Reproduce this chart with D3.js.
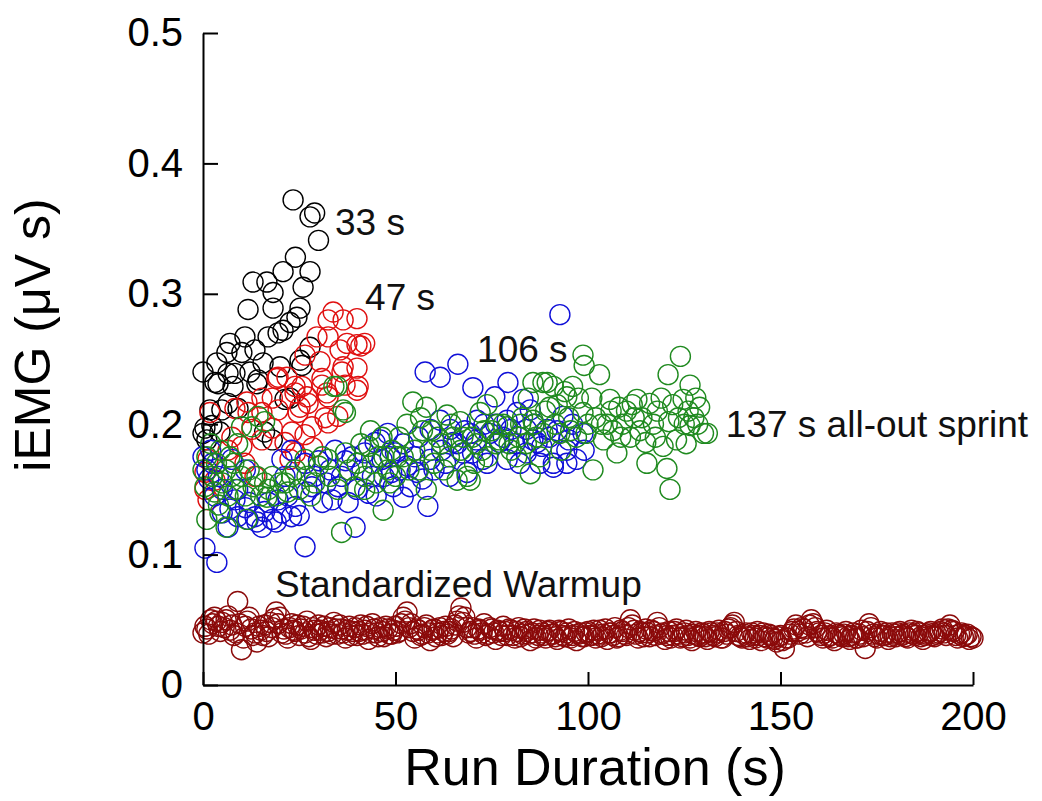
<!DOCTYPE html>
<html>
<head>
<meta charset="utf-8">
<script src="https://cdnjs.cloudflare.com/ajax/libs/d3/7.8.5/d3.min.js"></script>
<style>
  body { margin: 0; background: #fff; }
  svg { display: block; font-family: "Liberation Sans", Arial, sans-serif; }
</style>
</head>
<body>
<svg></svg>
<script>
// Data: [time (s), iEMG (uV s)]
const sprint33 = [[0,0.240],[0.5,0.197],[1,0.188],[1.8,0.211],[2.3,0.199],[3.1,0.232],[3.6,0.247],[3.9,0.231],[4.4,0.194],[4.9,0.211],[6.2,0.255],[6.5,0.216],[6.5,0.239],[7,0.262],[7.8,0.229],[8.3,0.239],[9.1,0.212],[10.1,0.255],[10.9,0.267],[11.7,0.288],[12.2,0.240],[13,0.309],[13.5,0.257],[14,0.231],[14.3,0.234],[15.6,0.247],[16,0.194],[16.6,0.309],[16.9,0.267],[18,0.188],[18.2,0.301],[18.2,0.289],[19.5,0.270],[20,0.244],[20.8,0.272],[20.8,0.317],[21.3,0.219],[22.6,0.278],[22.6,0.220],[23.4,0.372],[24,0.328],[24.4,0.282],[25.2,0.289],[25.2,0.249],[25.7,0.245],[26,0.305],[27.8,0.259],[27.8,0.317],[27.8,0.359],[29,0.362],[30,0.341],[0,0.193]];

const sprint47 = [[0.5,0.150],[0.5,0.163],[1.3,0.142],[1.3,0.173],[1.8,0.209],[3.1,0.157],[6.5,0.180],[7.5,0.190],[8.3,0.212],[10.1,0.183],[10.9,0.170],[11.4,0.217],[11.7,0.209],[12.7,0.196],[13.5,0.160],[15.3,0.220],[15.3,0.209],[15.3,0.188],[18,0.220],[18,0.197],[19.2,0.235],[19.5,0.236],[19.5,0.211],[21.3,0.186],[21.8,0.236],[22.6,0.173],[23.1,0.194],[23.9,0.229],[23.9,0.224],[24,0.178],[24.7,0.209],[25.2,0.213],[25.7,0.229],[26.5,0.253],[26.5,0.192],[27,0.221],[27.3,0.216],[28.3,0.198],[28.5,0.182],[29.6,0.267],[30.4,0.248],[30.9,0.230],[30.9,0.235],[31.7,0.205],[32.2,0.224],[32.5,0.280],[32.5,0.267],[32.5,0.221],[32.5,0.201],[33.8,0.286],[35,0.206],[35.6,0.257],[36.1,0.240],[36.4,0.280],[36.4,0.244],[36.9,0.230],[37.4,0.262],[40,0.281],[40,0.261],[40,0.243],[40,0.226],[40.3,0.229],[41,0.260],[42,0.262]];

const sprint106 = [[0,0.175],[0.5,0.105],[1,0.165],[1.5,0.158],[2,0.180],[2.5,0.170],[3,0.145],[3.6,0.094],[4,0.160],[5,0.132],[5,0.150],[6.5,0.121],[7,0.135],[7.5,0.173],[8.3,0.142],[9,0.129],[9,0.150],[11,0.165],[11,0.136],[11.7,0.127],[12,0.140],[13.5,0.129],[14,0.125],[15.3,0.121],[16,0.133],[17,0.140],[18,0.127],[19,0.125],[19.5,0.142],[20.5,0.132],[20.5,0.173],[21.3,0.160],[22,0.145],[23,0.129],[23,0.180],[24,0.137],[25,0.130],[26.5,0.170],[26.5,0.106],[27,0.148],[28.3,0.152],[29,0.160],[30,0.172],[31,0.140],[32,0.155],[33,0.165],[33.5,0.142],[34.3,0.180],[35,0.152],[36,0.160],[37,0.172],[37.7,0.140],[38.7,0.175],[39.5,0.121],[40,0.150],[41.3,0.165],[42,0.178],[43,0.147],[44,0.160],[44.7,0.186],[45,0.145],[46,0.188],[46.5,0.173],[47,0.160],[48,0.193],[48.6,0.175],[49,0.163],[49.4,0.152],[50,0.178],[51.2,0.165],[52,0.144],[52,0.185],[53,0.168],[53.8,0.152],[55,0.175],[55.6,0.163],[56,0.190],[57,0.158],[57.7,0.240],[58.4,0.137],[59,0.173],[59,0.196],[60,0.165],[61.6,0.203],[61.6,0.236],[62,0.180],[63,0.170],[64,0.160],[64.2,0.196],[65,0.186],[66,0.185],[66.2,0.246],[67.5,0.178],[68,0.195],[68.6,0.163],[69.4,0.193],[70,0.178],[70.1,0.228],[71,0.188],[71.2,0.203],[72.7,0.173],[73,0.200],[73.8,0.170],[74.5,0.193],[75.8,0.221],[76,0.200],[77,0.186],[78,0.190],[79,0.203],[79,0.173],[79.2,0.232],[80,0.196],[81,0.185],[81.6,0.209],[82.3,0.170],[83.1,0.219],[84,0.196],[84,0.178],[85,0.211],[85.7,0.188],[86,0.200],[86.8,0.186],[87.5,0.170],[88,0.183],[89.4,0.196],[90,0.190],[91,0.167],[91,0.170],[92,0.195],[92.7,0.284],[93.5,0.206],[94.5,0.180],[94.5,0.170],[95,0.188],[96,0.200],[97,0.173],[98.7,0.193],[99,0.180]];

const sprint137 = [[0,0.165],[0.5,0.152],[1,0.175],[1,0.127],[2,0.185],[2.5,0.160],[3,0.148],[3.5,0.170],[4,0.138],[4.4,0.132],[4.5,0.180],[5,0.155],[6,0.165],[6,0.121],[6.5,0.145],[7,0.175],[7.5,0.160],[8,0.170],[8.5,0.150],[9,0.185],[10,0.198],[10,0.160],[11,0.145],[11.4,0.127],[12,0.165],[12.7,0.198],[13,0.152],[14,0.160],[14.3,0.206],[15,0.145],[16,0.202],[16,0.155],[16.6,0.144],[17,0.150],[18,0.160],[19,0.145],[20,0.155],[21.3,0.155],[22,0.148],[23,0.160],[24,0.165],[25,0.150],[26.5,0.173],[27,0.160],[28,0.145],[29,0.155],[30,0.168],[31,0.175],[32.5,0.173],[33,0.160],[34,0.229],[34.8,0.229],[35,0.150],[36,0.117],[36.4,0.211],[37,0.178],[37,0.209],[38,0.165],[39.5,0.152],[40,0.170],[41,0.185],[42,0.160],[42,0.150],[43,0.183],[43.5,0.195],[44,0.170],[45,0.155],[45.5,0.175],[46.5,0.190],[46.8,0.134],[47,0.175],[48,0.165],[48.5,0.155],[49,0.180],[50,0.160],[50.5,0.175],[51,0.190],[52,0.175],[53,0.200],[53.5,0.165],[54.5,0.217],[55,0.180],[56,0.165],[56.5,0.205],[57,0.195],[58,0.213],[58,0.150],[59,0.180],[59.5,0.195],[60,0.170],[61,0.190],[62,0.185],[62.5,0.165],[63.4,0.207],[64,0.175],[64.5,0.200],[65,0.190],[66,0.157],[66.8,0.202],[67,0.180],[67.5,0.190],[68.6,0.160],[69.4,0.157],[70,0.190],[70.5,0.170],[71,0.185],[72,0.209],[72.5,0.180],[73,0.195],[73.8,0.215],[74,0.175],[75,0.195],[76,0.185],[76.5,0.200],[77,0.188],[78,0.200],[79,0.198],[79.5,0.185],[80,0.180],[81.5,0.175],[82,0.190],[82.5,0.200],[83,0.205],[84,0.185],[84.5,0.220],[85,0.162],[85.7,0.232],[85.7,0.203],[86,0.200],[86.5,0.190],[87.5,0.175],[88.3,0.232],[88.3,0.193],[89,0.210],[89.4,0.232],[90,0.213],[91,0.229],[91.5,0.200],[92,0.215],[92.7,0.193],[93,0.180],[94,0.225],[94.5,0.221],[95,0.205],[95.5,0.195],[96,0.229],[97,0.190],[97.5,0.220],[98.7,0.253],[98.7,0.209],[99,0.245],[99.5,0.193],[100,0.200],[101,0.220],[101.3,0.165],[102,0.205],[103,0.238],[103.5,0.200],[104,0.188],[105,0.200],[105.7,0.219],[106,0.210],[106.5,0.195],[107.5,0.178],[108,0.213],[108.5,0.190],[109,0.200],[110,0.210],[111,0.190],[111.5,0.215],[112,0.205],[112.7,0.219],[113.5,0.195],[114,0.205],[115,0.186],[115.3,0.170],[116,0.216],[117,0.200],[117.5,0.190],[118,0.210],[119,0.220],[119.5,0.183],[120.5,0.166],[120.8,0.238],[121,0.202],[121.3,0.150],[122,0.215],[123,0.188],[123.5,0.205],[124,0.252],[124.7,0.219],[125,0.200],[125.5,0.185],[126,0.210],[126.5,0.230],[126.5,0.199],[127.5,0.205],[128,0.220],[128.5,0.200],[129,0.213],[130,0.193],[131,0.193]];

// warmup sampled every second (0..200 s) plus the in-between half seconds
const warmupY = [
  0.040,0.043,0.050,0.052,0.045,0.048,0.050,0.042,0.038,0.064,
  0.027,0.045,0.052,0.038,0.033,0.042,0.046,0.037,0.044,0.056,
  0.052,0.043,0.036,0.047,0.041,0.038,0.045,0.049,0.035,0.042,
  0.046,0.040,0.037,0.044,0.048,0.039,0.043,0.036,0.045,0.041,
  0.038,0.046,0.042,0.035,0.047,0.040,0.044,0.037,0.043,0.039,
  0.045,0.041,0.052,0.056,0.047,0.036,0.042,0.039,0.046,0.034,
  0.043,0.040,0.038,0.045,0.041,0.037,0.049,0.059,0.052,0.040,
  0.044,0.036,0.042,0.047,0.039,0.043,0.035,0.041,0.045,0.038,
  0.042,0.036,0.044,0.039,0.041,0.034,0.043,0.038,0.040,0.036,
  0.042,0.039,0.035,0.041,0.037,0.043,0.038,0.034,0.040,0.037,
  0.041,0.038,0.036,0.042,0.039,0.035,0.040,0.044,0.037,0.041,
  0.038,0.050,0.042,0.036,0.040,0.043,0.037,0.041,0.048,0.039,
  0.035,0.041,0.038,0.043,0.036,0.040,0.038,0.034,0.041,0.037,
  0.039,0.035,0.040,0.037,0.042,0.036,0.039,0.044,0.048,0.038,
  0.036,0.040,0.035,0.038,0.041,0.034,0.037,0.039,0.036,0.033,
  0.038,0.028,0.036,0.041,0.046,0.039,0.043,0.037,0.050,0.044,
  0.040,0.036,0.042,0.038,0.034,0.039,0.037,0.041,0.035,0.040,
  0.036,0.042,0.028,0.047,0.039,0.036,0.041,0.038,0.035,0.040,
  0.037,0.041,0.039,0.036,0.042,0.038,0.040,0.035,0.039,0.041,
  0.037,0.040,0.043,0.038,0.046,0.041,0.036,0.040,0.038,0.035,
  0.036];
const warmupHalfY = [
  0.045,0.039,0.047,0.049,0.041,0.044,0.053,0.046,0.040,0.047,
  0.036,0.049,0.043,0.040,0.045,0.038,0.041,0.048,0.051,0.047,
  0.040,0.039,0.044,0.042,0.046,0.043,0.040,0.037,0.044,0.039,
  0.042,0.045,0.041,0.039,0.043,0.046,0.040,0.042,0.038,0.044,
  0.041,0.039,0.045,0.040,0.043,0.037,0.041,0.045,0.039,0.042,
  0.040,0.047,0.049,0.044,0.041,0.043,0.038,0.044,0.040,0.042,
  0.037,0.044,0.041,0.039,0.043,0.046,0.053,0.048,0.044,0.041,
  0.039,0.043,0.040,0.038,0.044,0.040,0.042,0.038,0.041,0.043,
  0.038,0.041,0.037,0.043,0.039,0.040,0.036,0.042,0.038,0.041,
  0.039,0.037,0.042,0.038,0.040,0.036,0.041,0.039,0.037,0.040,
  0.038,0.042,0.039,0.037,0.043,0.040,0.038,0.036,0.042,0.039,
  0.044,0.046,0.039,0.041,0.037,0.040,0.042,0.038,0.044,0.040,
  0.038,0.036,0.041,0.039,0.037,0.042,0.036,0.039,0.038,0.040,
  0.037,0.041,0.038,0.040,0.036,0.041,0.043,0.046,0.041,0.037,
  0.039,0.037,0.040,0.036,0.038,0.040,0.036,0.038,0.035,0.037,
  0.034,0.036,0.039,0.043,0.041,0.044,0.040,0.046,0.047,0.041,
  0.038,0.040,0.037,0.036,0.040,0.038,0.039,0.037,0.038,0.036,
  0.039,0.037,0.041,0.044,0.037,0.039,0.038,0.040,0.037,0.039,
  0.040,0.038,0.037,0.040,0.039,0.041,0.037,0.038,0.040,0.038,
  0.039,0.041,0.040,0.043,0.042,0.038,0.039,0.037,0.039,0.037];
const warmup = warmupY.map((v, i) => [i, v])
    .concat(warmupHalfY.map((v, i) => [i + 0.5, v]));

const xTicks = [0, 50, 100, 150, 200];
const yTicks = [0, 0.1, 0.2, 0.3, 0.4, 0.5];

// annotation text with its anchor in data units
const labels = [
  { text: "33 s", x: 34.3, y: 0.345 },
  { text: "47 s", x: 42.1, y: 0.2876 },
  { text: "106 s", x: 71.2, y: 0.2477 },
  { text: "137 s all-out sprint", x: 135.8, y: 0.190 },
  { text: "Standardized Warmup", x: 18.7, y: 0.0675 }
];

const series = [
  { data: sprint33, color: "#000000" },
  { data: sprint47, color: "#e01010" },
  { data: sprint106, color: "#1010d8" },
  { data: sprint137, color: "#1f8a1f" },
  { data: warmup, color: "#8b0a0a" }
];

const svgWidth = 1042, svgHeight = 801;
const margin = { top: 33, right: 69, bottom: 116, left: 203 };
const w = svgWidth - margin.left - margin.right;
const h = svgHeight - margin.top - margin.bottom;

const svg = d3.select("svg")
    .attr("width", svgWidth)
    .attr("height", svgHeight);

svg.append("rect").attr("width", svgWidth).attr("height", svgHeight).attr("fill", "#fff");

const g = svg.append("g")
    .attr("transform", `translate(${margin.left},${margin.top})`);

const xScale = d3.scaleLinear().domain([0, 200]).range([0, w]);
const yScale = d3.scaleLinear().domain([0, 0.5]).range([h, 0]);

// points
series.forEach(s => {
    g.append("g").selectAll("circle")
        .data(s.data)
        .enter().append("circle")
        .attr("cx", d => xScale(d[0]))
        .attr("cy", d => yScale(d[1]))
        .attr("r", 10)
        .attr("fill", "none")
        .attr("stroke", s.color)
        .attr("stroke-width", 1.4);
});

// axes, ticks pointing inward
const xAxis = d3.axisBottom(xScale).tickValues(xTicks).tickFormat(d3.format("d"))
    .tickSizeInner(-13).tickSizeOuter(0).tickPadding(17);
const yAxis = d3.axisLeft(yScale).tickValues(yTicks).tickFormat(d => d === 0 ? "0" : d3.format(".1f")(d))
    .tickSizeInner(-15).tickSizeOuter(0).tickPadding(20);

const gx = g.append("g").attr("transform", `translate(0,${h})`).call(xAxis);
const gy = g.append("g").call(yAxis);

[gx, gy].forEach(a => {
    a.select(".domain").attr("stroke", "#000").attr("stroke-width", 2);
    a.selectAll(".tick line").attr("stroke", "#000").attr("stroke-width", 2);
    a.selectAll(".tick text").attr("fill", "#000")
        .style("font-size", "40px")
        .style("font-family", "'Liberation Sans', Arial, sans-serif");
});

// annotations
g.selectAll(".note")
    .data(labels)
    .enter().append("text")
    .attr("class", "note")
    .attr("x", d => xScale(d.x))
    .attr("y", d => yScale(d.y))
    .attr("font-size", 37)
    .attr("fill", "#111")
    .text(d => d.text);

// axis titles
svg.append("text")
    .attr("x", 595)
    .attr("y", 785)
    .attr("text-anchor", "middle")
    .attr("font-size", 52)
    .text("Run Duration (s)");

svg.append("text")
    .attr("transform", "translate(50,335) rotate(-90)")
    .attr("text-anchor", "middle")
    .attr("font-size", 50)
    .text("iEMG (\u03bcV s)");
</script>
</body>
</html>
